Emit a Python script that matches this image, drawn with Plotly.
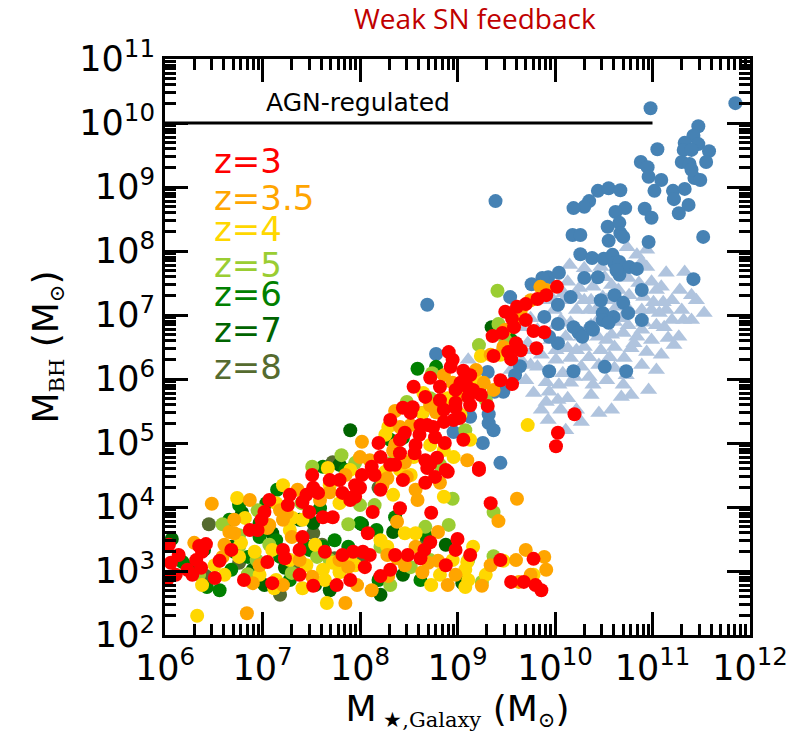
import numpy as np
import plotly.graph_objects as go

# ---------------- data (log10 values) ----------------
# z = 3 (red)
z3_lx = [6.35, 6.42, 6.38, 6.14, 6.06, 6.11, 6.32, 6.37, 6.28, 6.56, 6.95, 6.99, 7.02, 7.05, 7.10, 7.21,
         7.23, 7.28, 7.26, 7.41, 7.38, 7.45, 7.52, 7.41, 7.51, 7.57, 7.48, 7.64, 7.82, 7.93, 7.76, 7.52,
         7.62, 7.72, 7.79, 7.82, 7.93,
         8.02, 8.15, 8.00, 7.95, 8.13, 8.08, 8.41, 8.44, 8.67, 8.77, 8.90, 9.22, 8.73, 8.72, 8.66, 9.00,
         9.34, 8.03, 8.10, 8.05, 8.49, 8.21, 9.78, 9.55, 9.68, 9.80, 8.21,
         9.61, 9.70, 9.82, 10.02, 9.56, 9.58, 9.46, 9.36, 9.60, 9.52, 9.37, 9.55, 9.78, 9.89, 9.81, 10.03,
         10.01, 9.31, 9.56, 8.91, 8.95, 8.93, 8.72, 8.55, 8.82, 9.06, 9.13, 9.03, 9.10, 9.16, 9.11, 8.98,
         8.98, 8.44, 8.54, 8.52, 8.86, 8.86, 8.96, 9.02, 8.62, 8.69, 8.75, 8.46, 8.61, 8.77, 8.87, 9.06,
         9.22, 8.19, 8.21, 8.41, 8.56, 8.67, 8.72, 8.69, 8.12, 10.20, 8.79, 8.88,
         7.90, 7.69, 8.36, 8.57, 8.31, 9.13, 9.24, 9.44, 9.65, 9.70, 9.49, 9.91, 8.98, 8.82, 8.67, 8.41,
         8.31, 7.95, 7.07, 6.87, 6.68, 6.51, 6.23, 6.81, 7.38, 7.90, 8.31, 8.62, 8.88, 9.13, 9.44, 9.86,
         8.36, 8.98, 6.04, 6.02]
z3_ly = [3.39, 3.42, 3.30, 3.25, 3.13, 2.94, 3.17, 3.05, 2.94, 3.16, 3.64, 3.80, 3.92, 3.14, 2.81, 3.33,
         3.20, 4.19, 4.03, 3.53, 3.33, 4.19, 4.30, 4.08, 4.50, 4.22, 3.92, 3.30, 3.25, 3.30, 2.78, 2.77,
         3.84, 3.84, 4.42, 4.22, 4.16,
         4.50, 4.50, 4.30, 4.16, 3.92, 3.59, 3.98, 4.42, 4.38, 4.47, 4.55, 4.58, 3.91, 3.45, 3.33, 3.50,
         4.06, 3.30, 3.25, 3.06, 3.25, 2.92, 3.19, 2.83, 2.83, 2.78, 4.27,
         7.13, 7.17, 7.25, 7.44, 6.94, 6.81, 6.72, 6.67, 6.56, 6.42, 6.36, 6.31, 6.75, 6.73, 6.48, 5.16,
         4.95, 5.58, 5.92, 6.42, 6.30, 6.19, 6.02, 5.88, 5.88, 6.13, 6.06, 5.94, 5.88, 5.83, 5.72, 5.63,
         5.55, 5.55, 5.56, 5.47, 5.52, 5.33, 5.36, 5.39, 5.28, 5.28, 5.25, 5.16, 5.13, 5.09, 5.00, 5.05,
         4.61, 5.00, 4.78, 4.84, 4.84, 4.73, 4.67, 4.61, 4.63, 5.45, 4.77, 4.58,
         4.11, 4.42, 4.66, 4.97, 5.36, 5.59, 5.75, 5.98, 6.45, 6.92, 7.05, 7.31, 5.83, 5.67, 5.72, 5.05,
         4.66, 4.34, 4.11, 3.64, 3.33, 2.89, 3.02, 2.86, 2.94, 2.86, 3.02, 3.20, 3.09, 3.25, 3.17, 2.70,
         3.25, 3.33, 3.41, 2.86]

# z = 3.5 (orange)
z35_lx = [6.48, 6.30, 6.59, 6.71, 6.66, 6.90, 7.07, 7.21, 7.30, 7.21, 7.25, 7.36, 7.51, 7.88, 7.85, 7.69,
          6.84, 7.05,
          8.23, 8.38, 8.57, 8.59, 8.82, 8.80, 8.57, 9.61, 9.42, 8.28, 8.38, 8.64, 8.70, 8.80, 9.25, 8.90,
          7.97, 8.29, 9.60, 9.70, 9.89, 9.91, 9.63, 8.48, 8.28,
          9.85, 9.47, 8.86, 8.95, 9.27, 8.36, 8.78, 8.02, 8.41, 9.10, 8.00, 8.34, 8.46, 9.37,
          6.61, 6.97, 7.38, 7.79, 8.12, 8.46, 8.98, 9.34, 9.75, 7.59, 7.85, 8.10, 8.36, 8.52, 8.72, 9.03,
          9.19, 9.34, 9.49, 9.65, 9.75, 9.91, 6.87, 6.71, 7.18]
z35_ly = [4.05, 3.44, 3.22, 3.59, 3.61, 2.81, 3.72, 3.80, 3.53, 2.78, 3.91, 4.27, 2.91, 3.06, 2.50, 4.23,
          2.34, 3.67,
          4.34, 3.77, 4.27, 4.11, 4.38, 3.61, 3.38, 4.13, 3.78, 3.25, 3.20, 2.98, 3.13, 3.16, 2.77, 2.78,
          2.78, 2.92, 3.17, 3.33, 3.22, 3.02, 2.83, 4.47, 4.45,
          7.44, 6.50, 6.06, 5.94, 5.94, 5.50, 5.48, 5.02, 5.25, 4.73, 4.78, 4.88, 4.70, 5.83,
          3.41, 3.09, 3.17, 3.17, 2.70, 3.09, 2.94, 3.09, 2.94, 4.11, 4.50, 4.73, 4.97, 5.28, 5.59, 5.75,
          6.14, 6.38, 6.77, 7.08, 7.23, 7.39, 4.11, 3.80, 3.95]

# z = 4 (gold)
z4_lx = [6.74, 6.82, 6.92, 6.78, 6.76, 6.51, 6.38, 6.33, 7.10, 7.14, 7.28, 7.21, 7.14, 7.31, 7.41, 7.45,
         7.62, 7.79, 7.72, 7.66, 7.79, 7.12, 7.90, 7.41, 7.64,
         8.34, 8.46, 8.57, 9.16, 8.28, 8.95, 9.10, 9.08, 9.11, 9.08, 8.73, 9.47, 9.78, 8.86,
         9.24, 8.90, 8.65, 8.64, 8.29, 8.26, 8.86, 8.96, 9.72, 8.55, 7.67, 8.26,
         6.97, 6.61, 7.28, 7.54, 7.95, 8.21, 8.82, 9.29, 7.69, 7.90, 8.41, 8.72, 9.03, 9.19, 9.44, 9.60,
         9.13, 8.52]
z4_ly = [4.14, 3.83, 3.30, 3.44, 3.22, 3.09, 2.78, 2.30, 3.33, 2.86, 3.17, 4.34, 4.06, 3.83, 3.80, 3.09,
         3.02, 2.98, 3.13, 2.50, 4.06, 2.73, 3.22, 2.73, 2.86,
         4.19, 3.59, 3.59, 3.38, 3.38, 3.17, 3.14, 3.02, 2.86, 2.75, 2.78, 3.16, 2.94, 4.16,
         6.36, 5.70, 5.78, 5.47, 5.25, 5.13, 4.89, 4.78, 5.28, 4.78, 4.61, 4.55,
         2.94, 2.94, 3.64, 3.41, 3.09, 3.48, 2.94, 2.94, 4.34, 4.58, 4.58, 4.97, 5.44, 5.98, 6.38, 6.92,
         5.05, 4.50]

# z = 5 (yellow-green)
z5_lx = [6.59, 6.76, 6.85, 7.30, 6.94, 7.56, 7.88, 6.95, 7.40,
         8.15, 8.95, 8.67, 9.37, 8.21, 8.52, 9.11, 9.25, 9.37, 8.91,
         9.41, 9.42, 9.22, 8.74, 8.72, 8.48, 7.81, 7.95, 8.33, 7.51,
         7.07, 7.69, 8.31, 8.72, 8.00, 8.82, 9.08, 9.29, 9.49, 6.76, 6.35]
z5_ly = [3.73, 3.38, 2.95, 2.97, 3.17, 3.22, 3.73, 3.95, 4.06,
         4.03, 4.13, 3.69, 3.92, 3.38, 3.06, 3.17, 2.83, 3.23, 3.72,
         7.38, 6.86, 6.53, 6.09, 5.70, 5.64, 4.81, 4.69, 4.70, 4.63,
         3.41, 3.17, 2.78, 3.17, 4.03, 4.66, 5.20, 5.67, 6.61, 3.56, 2.94]

# z = 6 (green)
z6_lx = [6.18, 6.66, 6.43, 6.68, 6.85, 6.97, 6.97, 7.14, 7.18, 7.15, 7.48, 7.62, 7.88, 8.00, 6.71,
         7.59, 7.04, 8.36, 8.67, 8.19, 8.59, 8.78, 8.44, 7.62,
         6.30, 6.56, 7.28, 7.43, 7.74, 8.17, 8.62, 7.85, 8.31, 9.24, 9.55, 6.76]
z6_ly = [3.14, 3.80, 2.75, 3.02, 3.22, 3.53, 3.75, 3.48, 3.22, 4.27, 3.33, 3.38, 3.38, 3.75, 3.30,
         3.98, 4.06, 3.84, 3.56, 2.86, 6.16, 6.19, 5.08, 4.63,
         3.09, 2.70, 2.86, 3.41, 3.48, 3.64, 2.86, 4.58, 5.05, 5.91, 6.61, 4.03]

# z = 7 (dark green)
z7_lx = [6.07, 6.79, 6.68, 6.90, 7.10, 7.23, 7.52, 7.69, 8.34, 9.05, 8.44, 8.02, 9.35, 7.90, 7.79,
         6.40, 7.02, 7.54, 8.21, 8.88, 7.38]
z7_ly = [3.50, 3.91, 3.38, 3.02, 3.59, 3.05, 3.75, 2.70, 3.61, 2.81, 2.94, 3.73, 6.81, 5.20, 4.66,
         3.33, 2.78, 2.78, 2.63, 3.41, 3.80]

# z = 8 (dark olive)
z8_lx = [6.45, 6.42, 7.52, 8.19, 7.72, 7.74, 6.76, 7.61, 7.18, 8.00, 8.67, 7.38]
z8_ly = [3.73, 2.92, 3.59, 4.30, 4.70, 3.20, 3.13, 3.41, 2.63, 3.17, 3.41, 3.09]

# steel-blue circles
blue_lx = [11.85, 10.98, 11.47, 11.42, 11.33, 11.47, 11.32, 11.40, 11.58, 11.05, 11.30, 11.38, 11.55,
           10.88, 10.95, 10.96, 11.43, 11.49, 11.02, 11.21, 11.33, 11.22, 11.37, 11.27, 10.92, 10.99,
           11.52, 10.96, 10.44, 10.55, 10.67, 10.35, 10.30, 10.19, 10.72, 10.62, 10.54, 10.66, 10.67,
           10.18, 10.26, 10.55, 10.70, 9.39, 10.26, 10.38, 10.50, 10.59, 10.61, 10.66, 10.76, 10.84,
           10.66, 9.93, 10.04, 9.87, 10.30, 10.44, 9.76, 11.42, 9.54, 8.69, 10.16, 10.03, 10.61, 10.70,
           10.75, 10.49, 10.60, 10.49, 10.55, 9.89, 10.03, 10.89, 10.19, 10.24, 10.28, 10.37, 10.39,
           10.03, 9.94, 10.51, 10.19, 9.94, 10.73, 9.64, 9.59, 9.31, 8.78, 9.38, 9.47, 9.32, 9.13, 9.32,
           9.37, 8.96, 9.26, 9.44, 8.64, 10.63, 10.47, 10.89, 11.09, 11.40]
blue_ly = [10.31, 10.23, 9.95, 9.80, 9.69, 9.67, 9.58, 9.58, 9.56, 9.59, 9.39, 9.36, 9.39,
           9.39, 9.31, 9.16, 9.14, 9.11, 8.94, 8.94, 8.97, 8.81, 8.72, 8.59, 8.66, 8.52,
           8.22, 8.14, 8.94, 8.98, 8.95, 8.78, 8.69, 8.67, 8.67, 8.61, 8.38, 8.44, 8.28,
           8.25, 8.25, 8.16, 8.22, 8.78, 7.95, 7.89, 7.88, 7.94, 7.81, 7.83, 7.75, 7.72,
           7.63, 7.59, 7.66, 7.58, 7.58, 7.59, 7.48, 7.56, 7.28, 7.16, 7.28, 7.16, 7.31, 7.19,
           7.03, 7.03, 6.97, 6.92, 6.88, 6.97, 6.86, 6.92, 6.81, 6.73, 6.66, 6.81, 6.77,
           6.56, 6.66, 6.19, 6.12, 6.12, 6.12, 6.20, 6.06, 6.11, 6.39, 5.80, 5.80, 5.45, 5.41, 5.31,
           5.20, 5.17, 5.00, 4.69, 5.47, 7.70, 7.23, 7.39, 9.11, 9.27]

# light-steel-blue triangles
tri_lx = [10.74, 10.84, 10.94, 10.15, 10.30, 10.47, 10.94, 11.14, 11.33, 10.13, 10.25, 10.39, 10.51,
          10.75, 10.86, 10.99, 11.09, 11.28, 9.96, 10.09, 10.30, 10.49, 10.65, 10.76, 10.91, 11.01,
          11.11, 11.14, 11.30, 11.53, 10.22, 10.35, 10.63, 10.76, 10.99, 11.07, 11.32, 11.12, 10.06,
          10.16, 10.44, 10.61, 10.75, 10.91, 9.82, 10.11, 10.27, 10.44, 10.58, 10.70, 10.84, 10.99,
          11.16, 11.27, 10.13, 10.30, 10.47, 10.61, 10.78, 10.94, 10.16, 10.35, 10.56, 10.71, 10.27,
          10.45, 10.61, 9.82, 10.08, 10.20, 10.35, 9.91, 10.04, 10.16, 10.70, 10.96, 9.78, 9.91,
          10.03, 10.13, 10.68, 9.93, 10.27, 10.45, 9.65, 9.72, 9.65, 9.75, 9.11, 9.93, 9.77, 9.99,
          10.09, 10.89, 10.81, 10.39, 10.53, 10.68, 11.04, 10.37, 10.53, 10.89, 10.22, 10.01, 11.40,
          11.20,
          9.53, 9.60, 9.55, 9.70, 9.86, 9.96, 10.01, 10.22, 10.37, 10.58, 10.68, 10.89, 11.04, 11.20,
          11.40, 11.45, 11.22, 11.09, 10.89, 10.73, 10.53, 10.37, 10.22, 10.06, 9.86, 10.11, 10.58,
          10.78, 11.04, 10.42, 10.32, 10.01, 9.75, 9.94, 9.44]
tri_ly = [8.06, 7.94, 8.02, 7.78, 7.73, 7.75, 7.75, 7.66, 7.67, 7.52, 7.42, 7.44, 7.59,
          7.58, 7.50, 7.52, 7.44, 7.39, 7.28, 7.23, 7.23, 7.28, 7.39, 7.31, 7.28, 7.20,
          7.20, 7.08, 7.08, 7.03, 7.08, 7.08, 7.13, 7.08, 7.08, 7.03, 6.92, 6.81, 6.92,
          6.88, 6.92, 6.89, 6.84, 6.88, 6.77, 6.66, 6.66, 6.66, 6.69, 6.72, 6.66, 6.61,
          6.64, 6.66, 6.48, 6.50, 6.45, 6.50, 6.48, 6.42, 6.33, 6.34, 6.34, 6.33, 6.19,
          6.22, 6.17, 6.19, 6.09, 6.03, 6.03, 5.95, 5.91, 5.94, 5.91, 5.83, 5.78, 5.64,
          5.67, 5.70, 5.72, 5.36, 5.33, 5.47, 6.81, 6.56, 6.30, 6.95, 6.30, 7.23, 6.45, 7.08,
          7.34, 6.77, 6.56, 5.91, 7.23, 6.95, 6.84, 6.84, 6.61, 7.08, 6.45, 6.45, 7.31,
          6.92,
          6.77, 6.53, 6.14, 5.98, 6.38, 6.61, 6.84, 7.31, 7.23, 7.47, 7.78, 7.83, 7.39, 7.23,
          6.92, 7.23, 6.53, 6.38, 6.22, 6.06, 5.98, 5.75, 5.52, 5.52, 5.52, 5.20, 5.52,
          5.75, 6.14, 7.08, 6.77, 6.30, 6.22, 5.80, 6.45]

# AGN-regulated limit
agn_mstar = [1e6, 1e11]
agn_mbh = [1e10, 1e10]

# redshift labels / colours
z_labels = ["z=3", "z=3.5", "z=4", "z=5", "z=6", "z=7", "z=8"]
z_colors = ["#ff0000", "#ffa500", "#ffd700", "#9acd32", "#008000", "#006400", "#556b2f"]

x_tickvals = [1e6, 1e7, 1e8, 1e9, 1e10, 1e11, 1e12]
x_ticktext = ["10<sup>6</sup>", "10<sup>7</sup>", "10<sup>8</sup>", "10<sup>9</sup>",
              "10<sup>10</sup>", "10<sup>11</sup>", "10<sup>12</sup>"]
y_tickvals = [1e2, 1e3, 1e4, 1e5, 1e6, 1e7, 1e8, 1e9, 1e10, 1e11]
y_ticktext = ["10<sup>%d</sup>" % e for e in range(2, 12)]

# ---------------- figure ----------------
fig = go.Figure()

def pw(a):
    return 10 ** np.array(a)

fig.add_trace(go.Scatter(x=pw(tri_lx), y=pw(tri_ly), mode="markers",
                         marker=dict(symbol="triangle-up", size=15, color="#b0c4de", line=dict(width=0))))
fig.add_trace(go.Scatter(x=pw(blue_lx), y=pw(blue_ly), mode="markers",
                         marker=dict(symbol="circle", size=14, color="#4682b4", line=dict(width=0))))

groups = [(z8_lx, z8_ly, z_colors[6]), (z7_lx, z7_ly, z_colors[5]), (z6_lx, z6_ly, z_colors[4]),
          (z5_lx, z5_ly, z_colors[3]), (z4_lx, z4_ly, z_colors[2]), (z35_lx, z35_ly, z_colors[1]),
          (z3_lx, z3_ly, z_colors[0])]
for gx, gy, col in groups:
    fig.add_trace(go.Scatter(x=pw(gx), y=pw(gy), mode="markers",
                             marker=dict(symbol="circle", size=14, color=col, line=dict(width=0))))

fig.add_trace(go.Scatter(x=agn_mstar, y=agn_mbh, mode="lines", line=dict(color="black", width=3)))

# minor tick positions (2..9 x decade)
x_minor = [m * 10 ** e for e in range(6, 12) for m in range(2, 10)]
y_minor = [m * 10 ** e for e in range(2, 11) for m in range(2, 10)]

axis_common = dict(type="log", showline=True, linewidth=3, linecolor="black", mirror="allticks",
                   ticks="inside", ticklen=23, tickwidth=3, tickcolor="black", showgrid=False,
                   zeroline=False, tickmode="array",
                   tickfont=dict(family="DejaVu Sans", size=35, color="black"))

sub_style = "font-family:'DejaVu Serif';font-size:30px"
x_title = ("M<span style=\"%s\"><sub> ★,Galaxy</sub></span> (M<span style=\"%s\"><sub>⊙</sub></span>)"
           % (sub_style, sub_style))
y_title = ("M<span style=\"%s\"><sub>BH</sub></span> (M<span style=\"%s\"><sub>⊙</sub></span>)"
           % (sub_style, sub_style))

fig.update_xaxes(**axis_common, range=[6, 12], tickvals=x_tickvals, ticktext=x_ticktext,
                 minor=dict(tickmode="array", tickvals=x_minor, ticks="inside", ticklen=11, tickwidth=3,
                            tickcolor="black", showgrid=False),
                 title=dict(text=x_title, font=dict(family="DejaVu Sans", size=36, color="black"),
                            standoff=6))
fig.update_yaxes(**axis_common, range=[2, 11], tickvals=y_tickvals, ticktext=y_ticktext,
                 minor=dict(tickmode="array", tickvals=y_minor, ticks="inside", ticklen=11, tickwidth=3,
                            tickcolor="black", showgrid=False),
                 title=dict(text=y_title, font=dict(family="DejaVu Sans", size=36, color="black"),
                            standoff=10))

annotations = []
z_ypix = [161, 198, 229, 265, 294, 330, 367]
for lab, col, yp in zip(z_labels, z_colors, z_ypix):
    annotations.append(dict(text=lab, xref="paper", yref="paper", x=0.08, y=(635 - yp) / 576,
                            xanchor="left", yanchor="middle", showarrow=False,
                            font=dict(family="DejaVu Sans", size=34, color=col)))
annotations.append(dict(text="AGN-regulated", xref="paper", yref="paper", x=(358 - 165) / 585,
                        y=(635 - 102) / 576, xanchor="center", yanchor="middle", showarrow=False,
                        font=dict(family="DejaVu Sans", size=25, color="black")))
annotations.append(dict(text="Weak SN feedback", xref="paper", yref="paper", x=(475 - 165) / 585,
                        y=(635 - 18) / 576, xanchor="center", yanchor="middle", showarrow=False,
                        font=dict(family="Open Sans", size=28, color="#c00000")))

fig.update_layout(width=803, height=739, margin=dict(l=165, r=53, t=59, b=104),
                  plot_bgcolor="white", paper_bgcolor="white", showlegend=False,
                  font=dict(family="DejaVu Sans", color="black"), annotations=annotations)

fig.write_html("out.html")
